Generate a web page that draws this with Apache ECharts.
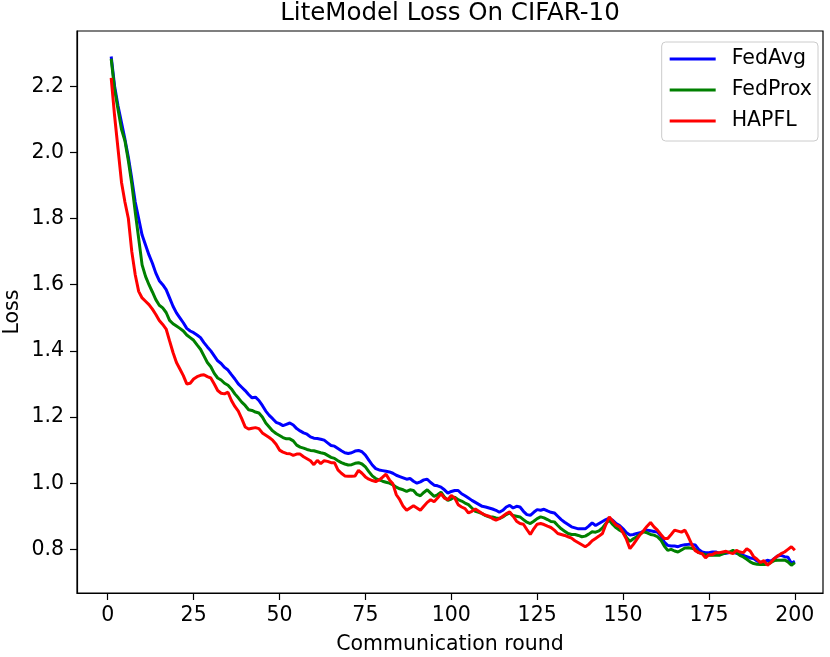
<!DOCTYPE html>
<html>
<head>
<meta charset="utf-8">
<script src="https://cdn.jsdelivr.net/npm/echarts@6/dist/echarts.min.js"></script>
<style>html,body{margin:0;padding:0;background:#fff}#c{width:830px;height:657px}</style>
</head>
<body>
<div id="c"></div>
<script>
const seriesNames = ['FedAvg', 'FedProx', 'HAPFL'];
const xTicks = [0, 25, 50, 75, 100, 125, 150, 175, 200];
const yTicks = [0.8, 1.0, 1.2, 1.4, 1.6, 1.8, 2.0, 2.2];

const fedAvg = [
2.290,2.200,2.140,2.090,2.040,1.985,1.920,1.850,1.800,1.750,
1.720,1.690,1.665,1.635,1.612,1.600,1.585,1.560,1.535,1.515,
1.500,1.485,1.468,1.460,1.455,1.448,1.440,1.425,1.412,1.400,
1.385,1.370,1.362,1.350,1.342,1.328,1.315,1.300,1.290,1.280,
1.268,1.258,1.260,1.250,1.235,1.218,1.205,1.195,1.184,1.180,
1.174,1.178,1.182,1.176,1.165,1.158,1.152,1.148,1.140,1.136,
1.135,1.133,1.130,1.122,1.114,1.112,1.105,1.098,1.092,1.090,
1.092,1.097,1.099,1.095,1.085,1.070,1.055,1.044,1.040,1.038,
1.036,1.034,1.030,1.024,1.020,1.016,1.012,1.014,1.006,1.000,
1.004,1.010,1.012,1.002,0.994,0.992,0.988,0.980,0.970,0.975,
0.978,0.978,0.968,0.962,0.955,0.948,0.942,0.936,0.930,0.928,
0.925,0.922,0.918,0.912,0.918,0.928,0.933,0.925,0.930,0.928,
0.915,0.905,0.903,0.912,0.920,0.918,0.921,0.916,0.912,0.910,
0.900,0.890,0.882,0.875,0.868,0.865,0.862,0.862,0.862,0.870,
0.880,0.872,0.878,0.884,0.890,0.894,0.888,0.878,0.872,0.862,
0.850,0.843,0.845,0.848,0.850,0.855,0.858,0.856,0.854,0.852,
0.840,0.822,0.812,0.810,0.810,0.808,0.812,0.814,0.815,0.815,
0.813,0.800,0.792,0.790,0.790,0.792,0.792,0.788,0.787,0.788,
0.790,0.792,0.788,0.785,0.782,0.778,0.774,0.772,0.765,0.760,
0.762,0.767,0.764,0.772,0.780,0.782,0.778,0.776,0.758,0.764
];
const fedProx = [
2.283,2.190,2.130,2.070,2.035,1.975,1.905,1.820,1.740,1.660,
1.625,1.600,1.578,1.555,1.538,1.530,1.516,1.492,1.482,1.475,
1.468,1.460,1.448,1.440,1.432,1.418,1.405,1.385,1.365,1.352,
1.332,1.318,1.312,1.302,1.296,1.285,1.270,1.258,1.245,1.235,
1.222,1.220,1.215,1.212,1.200,1.182,1.170,1.158,1.150,1.144,
1.138,1.134,1.134,1.128,1.115,1.109,1.106,1.102,1.099,1.098,
1.095,1.092,1.090,1.084,1.078,1.075,1.068,1.062,1.058,1.055,
1.056,1.060,1.062,1.058,1.049,1.035,1.022,1.014,1.010,1.006,
1.003,1.000,0.995,0.988,0.983,0.980,0.975,0.980,0.978,0.966,
0.962,0.972,0.980,0.970,0.960,0.965,0.973,0.958,0.948,0.952,
0.958,0.950,0.946,0.940,0.935,0.925,0.915,0.912,0.908,0.902,
0.898,0.898,0.895,0.893,0.898,0.905,0.910,0.902,0.900,0.898,
0.890,0.882,0.878,0.885,0.893,0.898,0.895,0.890,0.884,0.883,
0.872,0.862,0.855,0.848,0.845,0.845,0.842,0.838,0.840,0.846,
0.853,0.852,0.856,0.865,0.878,0.888,0.875,0.865,0.858,0.852,
0.836,0.824,0.832,0.838,0.846,0.853,0.850,0.845,0.843,0.838,
0.828,0.810,0.797,0.800,0.795,0.792,0.798,0.804,0.805,0.803,
0.800,0.790,0.787,0.784,0.782,0.782,0.782,0.782,0.786,0.790,
0.792,0.797,0.790,0.782,0.777,0.770,0.762,0.757,0.755,0.754,
0.754,0.755,0.760,0.766,0.767,0.767,0.768,0.762,0.752,0.760
];
const hapfl = [
2.225,2.110,2.010,1.910,1.850,1.800,1.700,1.630,1.580,1.560,
1.550,1.540,1.526,1.510,1.492,1.480,1.466,1.430,1.395,1.365,
1.345,1.325,1.300,1.302,1.315,1.322,1.326,1.328,1.322,1.318,
1.300,1.280,1.272,1.270,1.275,1.250,1.232,1.218,1.195,1.170,
1.164,1.166,1.168,1.165,1.152,1.145,1.138,1.130,1.118,1.100,
1.094,1.090,1.089,1.084,1.088,1.088,1.080,1.074,1.068,1.056,
1.069,1.059,1.068,1.066,1.062,1.062,1.040,1.030,1.022,1.021,
1.021,1.022,1.039,1.030,1.019,1.012,1.008,1.005,1.010,1.018,
1.027,1.010,0.998,0.965,0.950,0.930,0.918,0.925,0.932,0.925,
0.918,0.930,0.942,0.950,0.944,0.955,0.968,0.955,0.950,0.963,
0.955,0.935,0.928,0.923,0.910,0.915,0.922,0.915,0.908,0.903,
0.900,0.893,0.888,0.893,0.900,0.908,0.913,0.900,0.885,0.878,
0.876,0.860,0.845,0.862,0.876,0.878,0.875,0.870,0.866,0.858,
0.848,0.845,0.842,0.838,0.834,0.826,0.820,0.814,0.808,0.815,
0.826,0.833,0.840,0.848,0.875,0.898,0.885,0.873,0.868,0.850,
0.830,0.802,0.815,0.830,0.845,0.857,0.870,0.881,0.868,0.858,
0.845,0.833,0.833,0.845,0.858,0.855,0.852,0.858,0.838,0.815,
0.796,0.790,0.787,0.774,0.784,0.784,0.790,0.790,0.792,0.794,
0.790,0.787,0.797,0.792,0.790,0.802,0.795,0.778,0.770,0.760,
0.766,0.752,0.760,0.772,0.780,0.787,0.792,0.800,0.808,0.797
];
const rounds = fedAvg.map((_, i) => i + 1);

const colors = ['#0000ff', '#008000', '#ff0000'];
const allSeries = [fedAvg, fedProx, hapfl];
const FONT = 'DejaVu Sans';

const chart = echarts.init(document.getElementById('c'), null, {renderer: 'canvas'});
chart.setOption({
  animation: false,
  backgroundColor: '#fff',
  title: {
    text: 'LiteModel Loss On CIFAR-10',
    left: 450, textAlign: 'center', top: 1, padding: 0,
    textStyle: {fontFamily: FONT, fontSize: 24.5, fontWeight: 'normal', color: '#000'}
  },
  legend: {
    orient: 'vertical', right: 12, top: 42,
    padding: [5, 6, 8, 8],
    itemWidth: 46, itemHeight: 3, itemGap: 7, icon: 'rect',
    borderColor: '#cccccc', borderWidth: 1, borderRadius: 4,
    backgroundColor: 'rgba(255,255,255,0.8)',
    textStyle: {fontFamily: FONT, fontSize: 20.5, color: '#000', lineHeight: 24, padding: [0, 0, 0, 11]},
    data: seriesNames
  },
  grid: {left: 77, right: 7, top: 31, bottom: 64, show: true, borderColor: '#000', borderWidth: 1.2,
    containLabel: false, outerBoundsMode: 'none'},
  xAxis: {
    type: 'value', min: -8.95, max: 208.2,
    name: 'Communication round', nameLocation: 'middle', nameGap: 41, nameMoveOverlap: false,
    nameTextStyle: {fontFamily: FONT, fontSize: 20.5, color: '#000'},
    axisLine: {show: true, onZero: false, lineStyle: {color: '#000', width: 1.2}},
    axisTick: {show: true, length: 7, inside: false, lineStyle: {color: '#000', width: 1.2}, customValues: xTicks},
    axisLabel: {fontFamily: FONT, fontSize: 20.5, color: '#000', margin: 12, customValues: xTicks},
    splitLine: {show: false}
  },
  yAxis: {
    type: 'value', min: 0.668, max: 2.367,
    name: 'Loss', nameLocation: 'middle', nameGap: 54, nameRotate: 90, nameMoveOverlap: false,
    nameTextStyle: {fontFamily: FONT, fontSize: 20.5, color: '#000'},
    axisLine: {show: true, onZero: false, lineStyle: {color: '#000', width: 1.2}},
    axisTick: {show: true, length: 7, inside: false, lineStyle: {color: '#000', width: 1.2}, customValues: yTicks},
    axisLabel: {fontFamily: FONT, fontSize: 20.5, color: '#000', margin: 13, customValues: yTicks,
      formatter: v => Number(v).toFixed(1)},
    splitLine: {show: false}
  },
  series: allSeries.map((arr, k) => ({
    name: seriesNames[k], type: 'line', symbol: 'none', showSymbol: false,
    data: rounds.map((r, i) => [r, arr[i]]),
    lineStyle: {color: colors[k], width: 3},
    itemStyle: {color: colors[k]},
    emphasis: {disabled: true}
  }))
});
</script>
</body>
</html>
